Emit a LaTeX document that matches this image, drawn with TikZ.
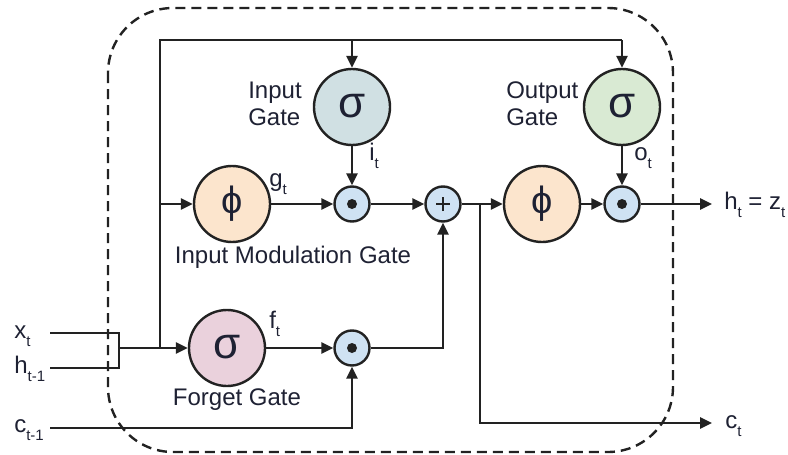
\documentclass[tikz,border=0pt]{standalone}
\usepackage{fontspec}
\setmainfont{Liberation Sans}
\usetikzlibrary{arrows.meta}
\definecolor{txt}{HTML}{1E2133}
\definecolor{igc}{HTML}{D0E0E3}
\definecolor{ogc}{HTML}{D9EAD3}
\definecolor{fgc}{HTML}{EAD1DC}
\definecolor{phic}{HTML}{FCE5CD}
\definecolor{opc}{HTML}{CFE2F3}
\definecolor{ln}{HTML}{222222}
\newcommand{\sbs}[1]{\raisebox{-8pt}{\fontsize{15}{15}\selectfont #1}}
\begin{document}
\begin{tikzpicture}[x=1pt,y=-1pt,line width=2.6pt,draw=ln,
  gate/.style={circle,draw=ln,line width=2.4pt,minimum size=76pt,inner sep=0pt,text=txt},
  sig/.style={gate,font=\fontsize{44}{44}\selectfont},
  phig/.style={gate,fill=phic,font=\fontsize{38}{38}\selectfont},
  op/.style={circle,draw=ln,line width=2.4pt,fill=opc,minimum size=35pt,inner sep=0pt},
  arr/.style={-{Triangle[length=12pt,width=11pt]}},
  lbl/.style={font=\fontsize{24}{27}\selectfont,text=txt,inner sep=0pt}]
\useasboundingbox (0,0) rectangle (788,455);
% dashed cell boundary
\draw[line width=2.4pt,dash pattern=on 10pt off 6pt,rounded corners=65pt] (108,8) rectangle (673,452);
% nodes
\node[sig,fill=igc] (ig) at (352,107) {\raisebox{2pt}{σ}};
\node[sig,fill=ogc] (og) at (622,107) {\raisebox{2pt}{σ}};
\node[sig,fill=fgc] (fg) at (227,348) {\raisebox{2pt}{σ}};
\node[phig] (phi1) at (232,204) {ϕ};
\node[phig] (phi2) at (542,204) {ϕ};
\node[op] (m1) at (352,204) {};
\node[op] (m2) at (622,204) {};
\node[op] (m3) at (352,348) {};
\node[op] (p) at (443,204) {};
\fill[ln] (m1) circle (5pt);
\fill[ln] (m2) circle (5pt);
\fill[ln] (m3) circle (5pt);
\draw[line width=2.2pt] ([xshift=-7pt]p.center) -- ([xshift=7pt]p.center);
\draw[line width=2.2pt] ([yshift=-7pt]p.center) -- ([yshift=7pt]p.center);
% coordinates
\coordinate (xs) at (50,333);
\coordinate (hs) at (50,368);
\coordinate (cs) at (50,428);
\coordinate (bx1) at (119,333);
\coordinate (bx2) at (119,368);
\coordinate (bm) at (119,348);
\coordinate (bl) at (160,348);
\coordinate (tl) at (160,40);
\coordinate (tm) at (352,40);
\coordinate (tr) at (622,40);
\coordinate (jl) at (160,204);
\coordinate (jc) at (480,204);
\coordinate (hout) at (712,204);
\coordinate (cout) at (712,423);
% connectors
\draw (xs) -- (bx1) -- (bx2) -- (hs);
\draw[arr] (bm) -- (fg);
\draw (bl) -- (tl) -- (tr);
\draw[arr] (tr) -- (og);
\draw[arr] (tm) -- (ig);
\draw[arr] (jl) -- (phi1);
\draw[arr] (phi1) -- (m1);
\draw[arr] (ig) -- (m1);
\draw[arr] (m1) -- (p);
\draw[arr] (p) -- (phi2);
\draw[arr] (phi2) -- (m2);
\draw[arr] (og) -- (m2);
\draw[arr] (m2) -- (hout);
\draw[arr] (fg) -- (m3);
\draw[arr] (cs) -| (m3);
\draw[arr] (m3) -| (p);
\draw[arr] (jc) |- (cout);
% labels
\node[lbl,anchor=base west] (lx) at (13,338) {x\sbs{t}};
\node[lbl,anchor=base west] (lh) at (13,373) {h\sbs{t-1}};
\node[lbl,anchor=base west] (lc) at (13,432) {c\sbs{t-1}};
\node[lbl,anchor=base west] (lht) at (723,209) {h\sbs{t} = z\sbs{t}};
\node[lbl,anchor=base west] (lct) at (724,428) {c\sbs{t}};
\node[lbl,anchor=base west] (lg) at (268,186) {g\sbs{t}};
\node[lbl,anchor=base west] (li) at (368,160) {i\sbs{t}};
\node[lbl,anchor=base west] (lo) at (633,160) {o\sbs{t}};
\node[lbl,anchor=base west] (lf) at (268,328) {f\sbs{t}};
\node[lbl,anchor=west,align=left] (tig) at (247,104) {Input\\Gate};
\node[lbl,anchor=west,align=left] (tog) at (505,104) {Output\\Gate};
\node[lbl] (tfg) at (237,400) {Forget Gate};
\node[lbl] (tim) at (293,257) {Input Modulation Gate};
\end{tikzpicture}
\end{document}
